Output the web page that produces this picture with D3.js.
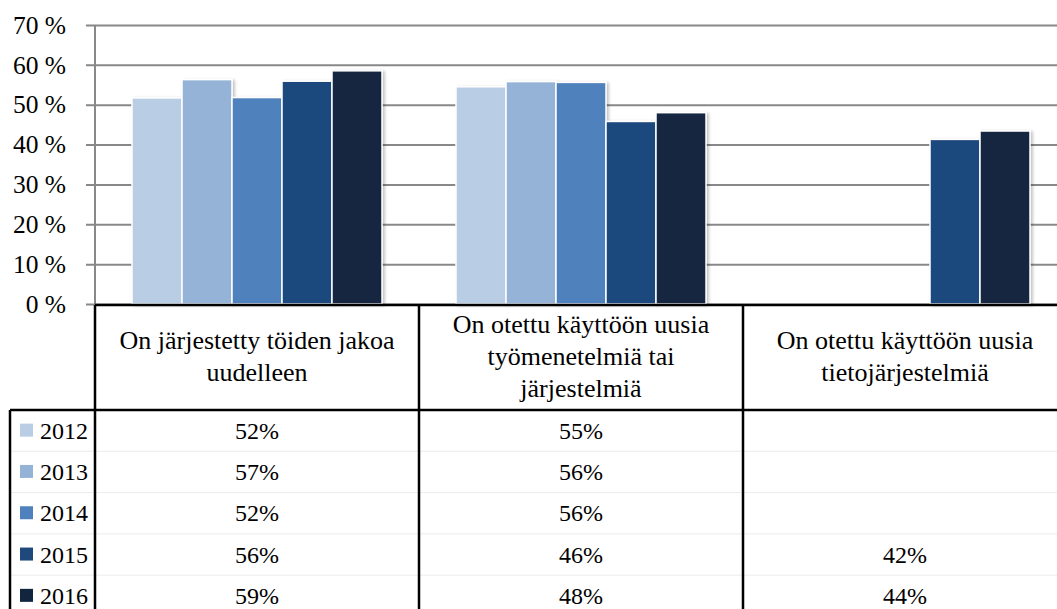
<!DOCTYPE html>
<html>
<head>
<meta charset="utf-8">
<script src="https://cdn.jsdelivr.net/npm/d3@7"></script>
<style>
  body { margin: 0; background: #fff; }
  svg { display: block; }
</style>
</head>
<body>
<svg id="chart"></svg>
<script>
// chart data
const categories = [
  ["On järjestetty töiden jakoa", "uudelleen"],
  ["On otettu käyttöön uusia", "työmenetelmiä tai", "järjestelmiä"],
  ["On otettu käyttöön uusia", "tietojärjestelmiä"]
];
const years = ["2012", "2013", "2014", "2015", "2016"];
// bar heights
const values2012 = [0.517, 0.545, null];
const values2013 = [0.563, 0.558, null];
const values2014 = [0.518, 0.556, null];
const values2015 = [0.559, 0.458, 0.413];
const values2016 = [0.585, 0.480, 0.434];
// values printed in the data table
const labels2012 = ["52%", "55%", ""];
const labels2013 = ["57%", "56%", ""];
const labels2014 = ["52%", "56%", ""];
const labels2015 = ["56%", "46%", "42%"];
const labels2016 = ["59%", "48%", "44%"];
const colors = ["#b9cde5", "#95b3d7", "#4f81bd", "#1f497d", "#12253f"];
const yTicks = [0, 0.1, 0.2, 0.3, 0.4, 0.5, 0.6, 0.7];

const series = [values2012, values2013, values2014, values2015, values2016];
const tableLabels = [labels2012, labels2013, labels2014, labels2015, labels2016];

const FONT = '"Liberation Serif", "Times New Roman", serif';
const width = 1057, height = 609;
const plotLeft = 95, plotTop = 25, plotBottom = 304;
const catWidth = 324;
const headerBottom = 410, rowH = 41.3, legendLeft = 10;

const svg = d3.select("#chart").attr("width", width).attr("height", height);

// soft shadow on the bars
const filter = svg.append("defs").append("filter")
  .attr("id", "shadow").attr("x", "-10%").attr("y", "-10%")
  .attr("width", "130%").attr("height", "120%");
filter.append("feDropShadow")
  .attr("dx", 2).attr("dy", 1).attr("stdDeviation", 1.5)
  .attr("flood-color", "#000").attr("flood-opacity", 0.25);

// scales
const x0 = d3.scaleBand()
  .domain(d3.range(categories.length))
  .range([plotLeft, plotLeft + catWidth * categories.length])
  .padding(0);
const x1 = d3.scaleBand()
  .domain(years)
  .range([0, x0.bandwidth()])
  .paddingInner(0)
  .paddingOuter(0.74);
const y = d3.scaleLinear().domain([0, 0.7]).range([plotBottom, plotTop]);

// gridlines + y axis
const yAxis = svg.append("g")
  .attr("transform", `translate(${plotLeft},0)`)
  .call(d3.axisLeft(y)
    .tickValues(yTicks)
    .tickSize(-(width - plotLeft))
    .tickPadding(29)
    .tickFormat(d => Math.round(d * 100) + " %"));
yAxis.select(".domain").remove();
yAxis.selectAll(".tick line")
  .attr("x1", -9)
  .attr("stroke", "#888")
  .attr("stroke-width", 2);
yAxis.selectAll(".tick text")
  .attr("fill", "#000")
  .attr("font-size", 25.5)
  .style("font-family", FONT);

svg.append("line")
  .attr("x1", plotLeft).attr("x2", plotLeft)
  .attr("y1", plotTop).attr("y2", plotBottom)
  .attr("stroke", "#888").attr("stroke-width", 2);

// bars
const barData = [];
series.forEach((vals, si) => {
  vals.forEach((v, ci) => {
    if (v != null) barData.push({ year: years[si], ci, v, color: colors[si] });
  });
});

svg.append("g")
  .selectAll("rect")
  .data(barData)
  .join("rect")
  .attr("x", d => x0(d.ci) + x1(d.year))
  .attr("y", d => y(d.v))
  .attr("width", x1.bandwidth())
  .attr("height", d => y(0) - y(d.v))
  .attr("fill", d => d.color)
  .attr("stroke", "#fff")
  .attr("stroke-width", 1.5)
  .attr("filter", "url(#shadow)");

// data table
const table = svg.append("g");
const tableBottom = height + 5;

// faint row separators
years.forEach((yr, i) => {
  if (i === 0) return;
  table.append("line")
    .attr("x1", legendLeft).attr("x2", width)
    .attr("y1", headerBottom + rowH * i).attr("y2", headerBottom + rowH * i)
    .attr("stroke", "#ececec").attr("stroke-width", 1);
});

// heavy borders
table.append("line")
  .attr("x1", plotLeft).attr("x2", width)
  .attr("y1", plotBottom + 1).attr("y2", plotBottom + 1)
  .attr("stroke", "#000").attr("stroke-width", 2.5);
table.append("line")
  .attr("x1", legendLeft).attr("x2", width)
  .attr("y1", headerBottom).attr("y2", headerBottom)
  .attr("stroke", "#000").attr("stroke-width", 2.5);
table.append("line")
  .attr("x1", legendLeft).attr("x2", legendLeft)
  .attr("y1", headerBottom).attr("y2", tableBottom)
  .attr("stroke", "#000").attr("stroke-width", 2.5);
d3.range(categories.length).forEach(ci => {
  table.append("line")
    .attr("x1", x0(ci)).attr("x2", x0(ci))
    .attr("y1", plotBottom + 1).attr("y2", tableBottom)
    .attr("stroke", "#000").attr("stroke-width", 2.5);
});

// header labels
const headerMid = (plotBottom + headerBottom) / 2;
const lineH = 32;
categories.forEach((lines, ci) => {
  const cx = x0(ci) + x0.bandwidth() / 2;
  const t = table.append("text")
    .attr("text-anchor", "middle")
    .attr("font-size", 26)
    .style("font-family", FONT)
    .attr("fill", "#000");
  lines.forEach((ln, li) => {
    t.append("tspan")
      .attr("x", cx)
      .attr("y", headerMid + (li - (lines.length - 1) / 2) * lineH + 8)
      .text(ln);
  });
});

// rows: legend key + values
years.forEach((yr, si) => {
  const rowMid = headerBottom + rowH * si + rowH / 2;
  table.append("rect")
    .attr("x", 20).attr("y", rowMid - 7)
    .attr("width", 13).attr("height", 13)
    .attr("fill", colors[si]);
  table.append("text")
    .attr("x", 40).attr("y", rowMid + 8)
    .attr("font-size", 24)
    .style("font-family", FONT)
    .attr("fill", "#000")
    .text(yr);
  tableLabels[si].forEach((lbl, ci) => {
    if (!lbl) return;
    table.append("text")
      .attr("x", x0(ci) + x0.bandwidth() / 2)
      .attr("y", rowMid + 8)
      .attr("text-anchor", "middle")
      .attr("font-size", 24)
      .style("font-family", FONT)
      .attr("fill", "#000")
      .text(lbl);
  });
});
</script>
</body>
</html>
